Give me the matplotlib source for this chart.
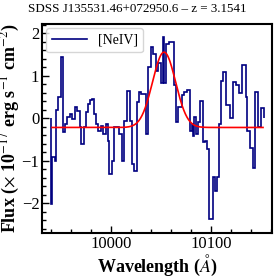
import numpy as np
import matplotlib
matplotlib.use('Agg')
import matplotlib.pyplot as plt
from matplotlib.ticker import MultipleLocator

plt.rcParams['font.family'] = ['Liberation Serif', 'DejaVu Serif']
plt.rcParams['mathtext.fontset'] = 'stix'

# spectrum: left bin edges (Angstrom) and flux values
wave_edges = [9940.3, 9941.0, 9943.7, 9945.3, 9947.0, 9949.7, 9952.0, 9954.3,
              9956.3, 9958.7, 9961.0, 9963.7, 9966.3, 9968.7, 9970.3, 9973.0,
              9975.3, 9977.0, 9978.5, 9981.0, 9983.3, 9985.0, 9986.7, 9990.0,
              9992.3, 9995.0, 9996.7, 9998.3, 10001.0, 10003.3, 10008.3, 10011.0,
              10013.3, 10016.3, 10019.0, 10021.3, 10023.0, 10025.7, 10028.0, 10030.3,
              10034.7, 10037.0, 10039.7, 10042.3, 10044.7, 10047.0, 10050.0, 10051.5,
              10053.0, 10055.3, 10058.3, 10062.6, 10065.0, 10067.3, 10070.5, 10072.5,
              10076.0, 10079.0, 10080.5, 10081.5, 10082.7, 10085.0, 10087.0, 10089.3,
              10091.7, 10094.0, 10096.3, 10098.3, 10101.7, 10104.0, 10106.3, 10108.3,
              10109.7, 10112.0, 10115.3, 10118.5, 10121.7, 10125.0, 10128.0, 10130.5,
              10134.5, 10136.3, 10139.0, 10141.7, 10144.0, 10147.0, 10150.0, 10153.0]
flux = [-2.02, -0.92, -1.0, 0.2, 0.49, 1.44, -0.33, -0.14,
        0.02, 0.09, -0.02, 0.26, 0.17, -0.2, -0.61, -0.2,
        0.14, 0.33, 0.42, 0.45, 0.09, -0.14, -0.3, -0.19,
        -0.38, -0.14, -0.54, -1.32, -1.01, -0.21, -0.38, -1.01,
        -0.07, 0.64, -0.07, -1.08, -1.25, 0.37, 0.61, 0.57,
        -0.38, 1.2, 1.67, 1.51, 1.1, 1.3, 0.82, 1.9,
        0.82, 1.74, 1.79, 0.78, -0.1, 0.26, 0.55, 0.61,
        0.66, -0.3, -0.14, -0.42, 0.02, -0.38, -0.1, 0.4,
        -0.56, -0.54, -0.73, -2.38, -1.39, -1.72, -1.39, -0.14,
        0.88, 1.08, 0.3, 0.0, 0.85, 0.78, 0.59, 1.25,
        0.5, -0.3, -0.7, -1.18, 0.61, -0.2, 0.23]

# gaussian fit of the [NeIV] line
fit_continuum = -0.22
fit_amplitude = 1.77
fit_center = 10053.0
fit_sigma = 11.5
fit_range = (9941.0, 10152.0)

fig = plt.figure(figsize=(2.77, 2.77), dpi=100)
ax = fig.add_axes([0.152, 0.159, 0.830, 0.754])

ax.stairs(flux, wave_edges, color='navy', lw=1.2, label='[NeIV]')

xf = np.linspace(fit_range[0], fit_range[1], 400)
yf = fit_continuum + fit_amplitude * np.exp(-0.5 * ((xf - fit_center) / fit_sigma) ** 2)
ax.plot(xf, yf, color='red', lw=1.2)

ax.set_xlim(9931, 10161)
ax.set_ylim(-2.7, 2.21)
ax.xaxis.set_major_locator(MultipleLocator(100))
ax.xaxis.set_minor_locator(MultipleLocator(20))
ax.yaxis.set_major_locator(MultipleLocator(1))
ax.yaxis.set_minor_locator(MultipleLocator(0.2))
ax.tick_params(which='both', direction='in', labelsize=12, width=1, pad=2)
ax.tick_params(which='major', length=5)
ax.tick_params(which='minor', length=3)
for s in ax.spines.values():
    s.set_linewidth(1.5)

ax.set_xlabel(r'Wavelength ($\AA$)', fontsize=13, fontweight='bold', labelpad=1)
ax.set_ylabel(r'Flux ($\times$ 10$^{-17}$ erg s$^{-1}$ cm$^{-2}$)', fontsize=13,
              fontweight='bold', labelpad=0)
fig.suptitle('SDSS J135531.46+072950.6 – z = 3.1541', fontsize=9.4, x=0.495, y=0.99)
ax.legend(loc='upper left', fontsize=10, handlelength=2.5, borderaxespad=0.3)

fig.savefig('out.png', dpi=100)
